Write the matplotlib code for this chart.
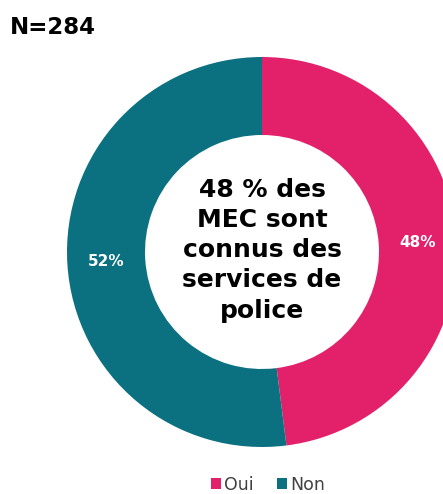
import matplotlib.pyplot as plt

labels = ["Oui", "Non"]
values = [48, 52]
colors = ["#E3216B", "#0B7181"]
n_total = 284
centre_text = "48 % des\nMEC sont\nconnus des\nservices de\npolice"

fig = plt.figure(figsize=(4.43, 4.94), dpi=100)
W, H = 443, 494
cx, cy, r = 262, 252, 195
ax = fig.add_axes([(cx - r) / W, (H - cy - r) / H, 2 * r / W, 2 * r / H])

wedges, _, autotexts = ax.pie(
    values, colors=colors, startangle=90, counterclock=False,
    radius=1, autopct="%d%%", pctdistance=0.80,
    wedgeprops=dict(width=0.4, linewidth=0),
    textprops=dict(color="white", fontsize=11, fontweight="bold"),
)
ax.set_xlim(-1, 1)
ax.set_ylim(-1, 1)
ax.set_aspect("equal")
ax.axis("off")

ax.text(0, 0.01, centre_text, ha="center", va="center", fontsize=18,
        fontweight="bold", color="black", linespacing=1.33)

fig.text(10 / W, 1 - 27 / H, f"N={n_total}", ha="left", va="center",
         fontsize=16.5, fontweight="bold", color="black")

fig.legend(wedges, labels, loc="center", bbox_to_anchor=(268 / W, 1 - 485 / H),
           ncol=2, frameon=False, handlelength=0.6, handleheight=0.6,
           handletextpad=0.2, columnspacing=1.3, fontsize=12.5,
           labelcolor="#404040")

fig.savefig("out.png", dpi=100)
